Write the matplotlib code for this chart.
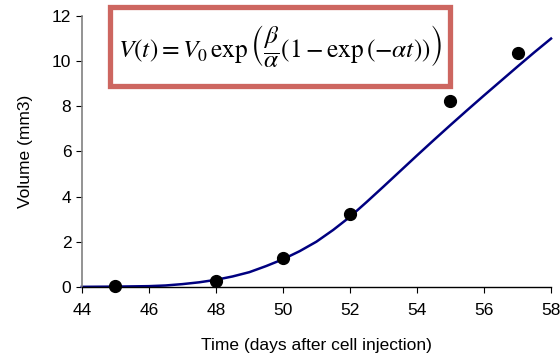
import matplotlib.pyplot as plt
from matplotlib.patches import Rectangle

plt.rcParams['font.family'] = ['Liberation Sans', 'DejaVu Sans']
plt.rcParams['mathtext.fontset'] = 'stix'

# measured tumour volumes
days = [45, 48, 50, 52, 55, 57]
volume = [0.05, 0.28, 1.28, 3.22, 8.22, 10.35]

# fitted curve
fit_days = [44, 45, 46, 46.5, 47, 47.5, 48, 48.5, 49, 49.5, 50, 50.5, 51, 51.5,
            52, 52.5, 53, 53.5, 54, 54.5, 55, 55.5, 56, 56.5, 57, 57.5, 58]
fit_volume = [0.0, 0.01, 0.03, 0.06, 0.12, 0.2, 0.31, 0.46, 0.65, 0.92, 1.22, 1.58,
              2.0, 2.52, 3.1, 3.76, 4.44, 5.13, 5.82, 6.5, 7.17, 7.83, 8.48, 9.12,
              9.76, 10.39, 11.0]

fig = plt.figure(figsize=(5.6, 3.64), dpi=100)
ax = fig.add_axes([0.146, 0.212, 0.838, 0.744])

ax.plot(fit_days, fit_volume, color='#000080', lw=1.8, clip_on=False, zorder=2)
ax.plot(days, volume, 'o', color='black', ms=8.5, clip_on=False, zorder=3)

ax.set_xlim(44, 58)
ax.set_ylim(0, 12)
ax.set_xticks(range(44, 59, 2))
ax.set_yticks(range(0, 13, 2))
ax.tick_params(labelsize=12.5, direction='out', length=4, width=0.8)
ax.tick_params(axis='x', pad=8)
ax.spines['top'].set_visible(False)
ax.spines['right'].set_visible(False)
ax.spines['left'].set_color('#808080')
ax.spines['left'].set_linewidth(1.2)
ax.spines['bottom'].set_linewidth(1)
ax.set_xlabel('Time (days after cell injection)', fontsize=12.5, labelpad=14)
ax.set_ylabel('Volume (mm3)', fontsize=12.5, labelpad=14)

# equation box
fig.patches.append(Rectangle((110 / 560, 1 - 86 / 364), 340 / 560, 79 / 364,
                             transform=fig.transFigure, fill=True, facecolor='white',
                             edgecolor='#CD6660', lw=3.8, zorder=5))
fig.text(280 / 560, 1 - 46 / 364,
         r'$V\left(t\right)=V_0\,\exp\left(\dfrac{\beta}{\alpha}\left(1-\exp\left(-\alpha t\right)\right)\right)$',
         ha='center', va='center', fontsize=18.3, zorder=6)

plt.savefig('out.png', dpi=100)
plt.close()
